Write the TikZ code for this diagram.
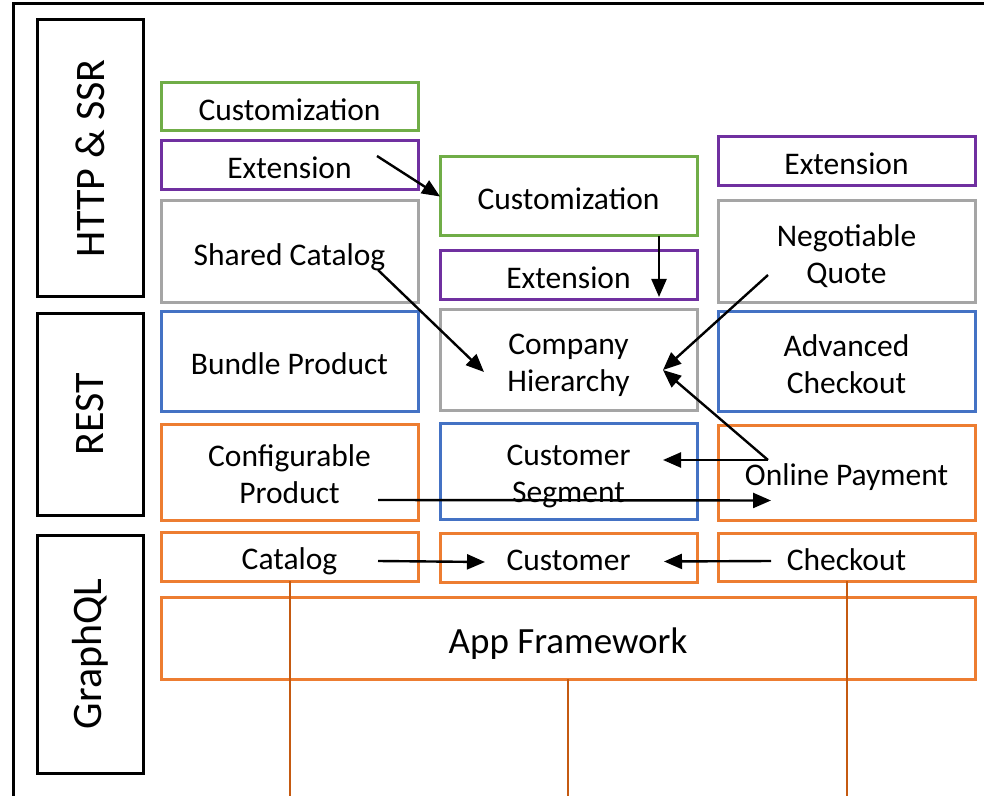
\documentclass[tikz,border=0pt]{standalone}
\usepackage{fontspec}
\setmainfont{Carlito}
\usetikzlibrary{positioning,arrows.meta}
\definecolor{cgreen}{HTML}{70AD47}
\definecolor{cpurple}{HTML}{7030A0}
\definecolor{cgray}{HTML}{A5A5A5}
\definecolor{cblue}{HTML}{4472C4}
\definecolor{corange}{HTML}{ED7D31}
\definecolor{cbrown}{HTML}{C55A11}
\tikzset{
  box/.style={draw, line width=1.5pt, minimum width=128.5pt, inner sep=0pt,
    outer sep=0pt, align=center, font=\fontsize{15.75}{18.5}\selectfont,
    execute at begin node={\rule{0pt}{1.08em}},
    execute at end node={\rule[-0.24em]{0pt}{0.24em}}},
  twoline/.style={execute at begin node={\rule{0pt}{35.5pt}}},
  custbox/.style={box, draw=cgreen},
  extbox/.style={box, draw=cpurple},
  modbox/.style={box, draw=cgray},
  restbox/.style={box, draw=cblue},
  gqlbox/.style={box, draw=corange},
  layer/.style={draw, line width=1.5pt, rotate=90, minimum height=53pt,
    inner sep=0pt, outer sep=0pt, font=\fontsize{21}{24}\selectfont},
  arr/.style={line width=1.2pt, -{Triangle[length=9pt,width=7.5pt]}},
  wire/.style={cbrown, line width=1pt}
}
\begin{document}
\begin{tikzpicture}[x=0.5pt, y=-0.5pt]
        \useasboundingbox (0,0) rectangle (984,796);
        \clip (0,0) rectangle (984,796);
        \draw[line width=1.5pt] (13.5,4) rectangle (1000,820);
        \node[layer, minimum width=138.5pt] (HS) at (90,158.5) {HTTP \& SSR};
        \node[layer, minimum width=100.5pt] (RE) at (90,414.5) {REST};
        \node[layer, minimum width=119pt] (GQ) at (90,654) {GraphQL};
        \node[custbox, minimum height=24pt, anchor=north] (C1) at (289.5,83)
        {Customization};
        \node[extbox, minimum height=24.5pt, below=5pt of C1] (E1) {Extension};
        \node[modbox, minimum height=51pt, below=5.5pt of E1] (SC)
        {Shared Catalog};
        \node[restbox, minimum height=49.5pt, below=4.5pt of SC] (BP)
        {Bundle Product};
        \node[gqlbox, twoline, minimum height=48pt, below=6.5pt of BP] (CP)
        {Configurable\\Product};
        \node[gqlbox, minimum height=24.5pt, below=6pt of CP] (Cat) {Catalog};
        \node[gqlbox, minimum height=41pt, minimum width=407pt,
        below=8pt of Cat.south west, anchor=north west,
        font=\fontsize{18.5}{22}\selectfont] (AF) {App Framework};
        \node[custbox, minimum height=39.5pt, anchor=north] (C2) at (568.5,157)
        {Customization};
        \node[extbox, minimum height=24.5pt, below=7.5pt of C2] (E2) {Extension};
        \node[modbox, twoline, minimum height=50pt, below=5pt of E2] (CH)
        {Company\\Hierarchy};
        \node[restbox, twoline, minimum height=48pt, below=6.5pt of CH] (CS)
        {Customer\\Segment};
        \node[gqlbox, minimum height=24.5pt, below=7pt of CS] (Cu) {Customer};
        \node[extbox, minimum height=24.5pt, anchor=north] (E3) at (846.5,137)
        {Extension};
        \node[modbox, twoline, minimum height=51pt, below=7.5pt of E3] (NQ)
        {Negotiable\\Quote};
        \node[restbox, twoline, minimum height=49.5pt, below=4.5pt of NQ] (AC)
        {Advanced\\Checkout};
        \node[gqlbox, minimum height=47.5pt, below=7pt of AC] (OP)
        {Online Payment};
        \node[gqlbox, minimum height=24pt, below=6.5pt of OP] (Co) {Checkout};
        \coordinate (bot) at (0,800);
        \draw[wire] (Cat.south) -- (Cat.south |- bot);
        \draw[wire] (AF.south) -- (AF.south |- bot);
        \draw[wire] (Co.south) -- (Co.south |- bot);
        \draw[arr] ([xshift=-20.5pt,yshift=4.75pt]E1.east) -- (C2.west);
        \draw[arr] ([xshift=45.25pt]C2.south)
        -- ([xshift=45.25pt,yshift=1.5pt]E2.south);
        \draw[arr] ([xshift=-20pt,yshift=-9pt]SC.east)
        -- ([xshift=22pt,yshift=-6pt]CH.west);
        \draw[arr] ([xshift=25pt,yshift=-11.5pt]NQ.west)
        -- ([xshift=-17pt,yshift=-5pt]CH.east);
        \draw[arr] ([xshift=25pt,yshift=6.25pt]OP.west)
        -- ([xshift=-17pt,yshift=-5pt]CH.east);
        \draw[arr] ([xshift=25pt,yshift=6.25pt]OP.west)
        -- ([xshift=-17pt,yshift=5.5pt]CS.east);
        \draw[arr] ([xshift=-20pt,yshift=-14pt]CP.east)
        -- ([xshift=26.5pt,yshift=-14pt]OP.west);
        \draw[arr] ([xshift=-20pt,yshift=-2.25pt]Cat.east)
        -- ([xshift=22.5pt,yshift=-2.25pt]Cu.west);
        \draw[arr] ([xshift=26.5pt,yshift=-2pt]Co.west)
        -- ([xshift=-16.5pt,yshift=-2pt]Cu.east);
    \end{tikzpicture}
\end{document}
